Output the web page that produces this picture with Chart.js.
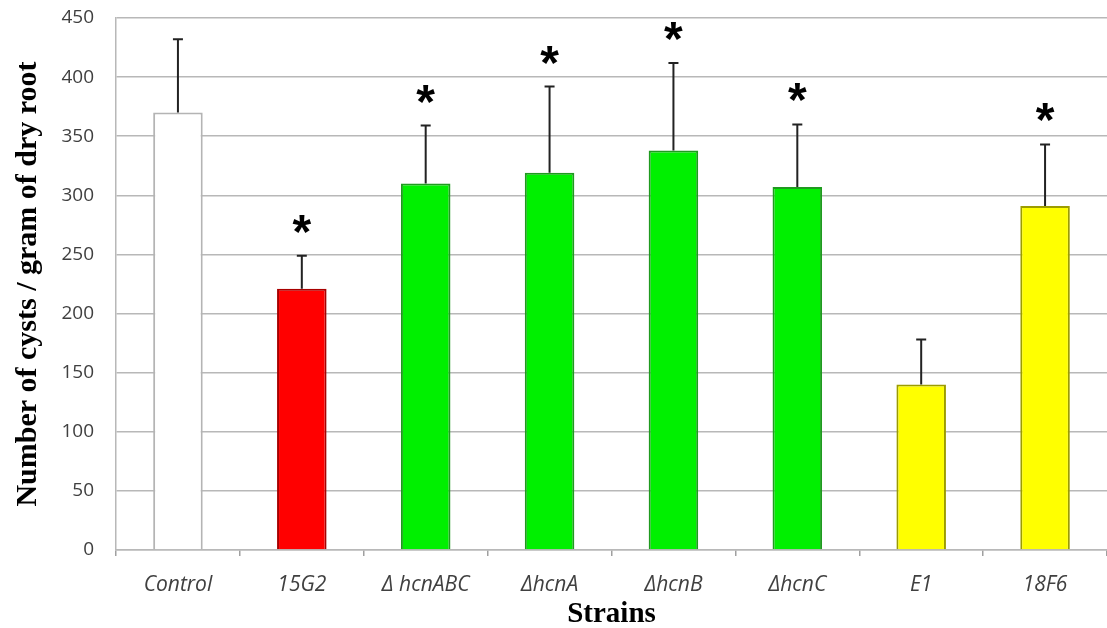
<!DOCTYPE html>
<html>
<head>
<meta charset="utf-8">
<script src="https://cdn.jsdelivr.net/npm/chart.js@4/dist/chart.umd.min.js"></script>
<style>
  html, body { margin: 0; padding: 0; background: #fff; }
  #wrap { width: 1107px; height: 628px; position: relative; }
</style>
</head>
<body>
<div id="wrap"><canvas id="cysts"></canvas></div>
<script>
// Cyst counts per strain, mean + upper SD
const strains = ['Control', '15G2', 'Δ hcnABC', 'ΔhcnA', 'ΔhcnB', 'ΔhcnC', 'E1', '18F6'];
const cysts = [370, 221, 310, 319, 338, 307, 140, 291];
const errUp = [62, 28, 49, 73, 74, 53, 38, 52];
const significant = [false, true, true, true, true, true, false, true];
const yTicks = [0, 50, 100, 150, 200, 250, 300, 350, 400, 450];

const fills   = ['#ffffff', '#ff0000', '#00f000', '#00f000', '#00f000', '#00f000', '#ffff00', '#ffff00'];
const borders = ['#b4b4b4', '#a80000', '#1f9a1f', '#1f9a1f', '#1f9a1f', '#1f9a1f', '#9c9c00', '#9c9c00'];

// error bars (upper only) and significance stars
const errorBars = {
  id: 'errorBars',
  afterDatasetsDraw(chart) {
    const {ctx, scales: {y}} = chart;
    const meta = chart.getDatasetMeta(0);
    ctx.save();
    meta.data.forEach((bar, i) => {
      const top = y.getPixelForValue(cysts[i] + errUp[i]);
      ctx.strokeStyle = '#222';
      ctx.lineWidth = 2;
      ctx.beginPath();
      ctx.moveTo(bar.x, bar.y);
      ctx.lineTo(bar.x, top);
      ctx.moveTo(bar.x - 5, top);
      ctx.lineTo(bar.x + 5, top);
      ctx.stroke();
      if (significant[i]) {
        ctx.fillStyle = '#000';
        ctx.font = 'bold 48px "Liberation Sans", Arial, sans-serif';
        ctx.textAlign = 'center';
        ctx.textBaseline = 'alphabetic';
        ctx.fillText('*', bar.x, top - 8);
      }
    });
    ctx.restore();
  }
};

new Chart(document.getElementById('cysts'), {
  type: 'bar',
  data: {
    labels: strains,
    datasets: [{
      data: cysts,
      backgroundColor: fills,
      borderColor: borders,
      borderWidth: 2,
      barPercentage: 0.4,
      categoryPercentage: 1
    }]
  },
  options: {
    responsive: true, maintainAspectRatio: false,
    animation: false,
    layout: { padding: { top: 18, right: 0, left: 0, bottom: 0 } },
    plugins: { legend: { display: false }, tooltip: { enabled: false } },
    scales: {
      y: {
        min: 0, max: 450,
        afterFit: s => { s.width = 116; },
        afterBuildTicks: s => { s.ticks = yTicks.map(v => ({ value: v })); },
        // invisible tick marks keep the labels off the axis without padding the top
        grid: { color: '#b8b8b8', lineWidth: 1.5, drawTicks: true, tickLength: 20, tickColor: 'rgba(0,0,0,0)' },
        border: { color: '#b8b8b8', width: 1.5 },
        ticks: { padding: 2, color: '#404040', font: { family: '"Open Sans", sans-serif', size: 19 } },
        title: {
          display: true, text: 'Number of cysts / gram of dry root', color: '#000',
          font: { family: '"Liberation Serif", "Times New Roman", serif', size: 30, weight: 'bold' },
          padding: { top: 10, bottom: 0 }
        }
      },
      x: {
        afterFit: s => { s.height = 78; },
        grid: { drawOnChartArea: false, color: '#a0a0a0', lineWidth: 1.5, tickLength: 6, offset: true },
        border: { color: '#b8b8b8', width: 1.5 },
        ticks: { padding: 16, color: '#404040', font: { family: '"Open Sans", sans-serif', size: 21, style: 'italic' } },
        title: {
          display: true, text: 'Strains', color: '#000',
          font: { family: '"Liberation Serif", "Times New Roman", serif', size: 29, weight: 'bold' },
          padding: { top: 0, bottom: -4 }
        }
      }
    }
  },
  plugins: [errorBars]
});
</script>
</body>
</html>
